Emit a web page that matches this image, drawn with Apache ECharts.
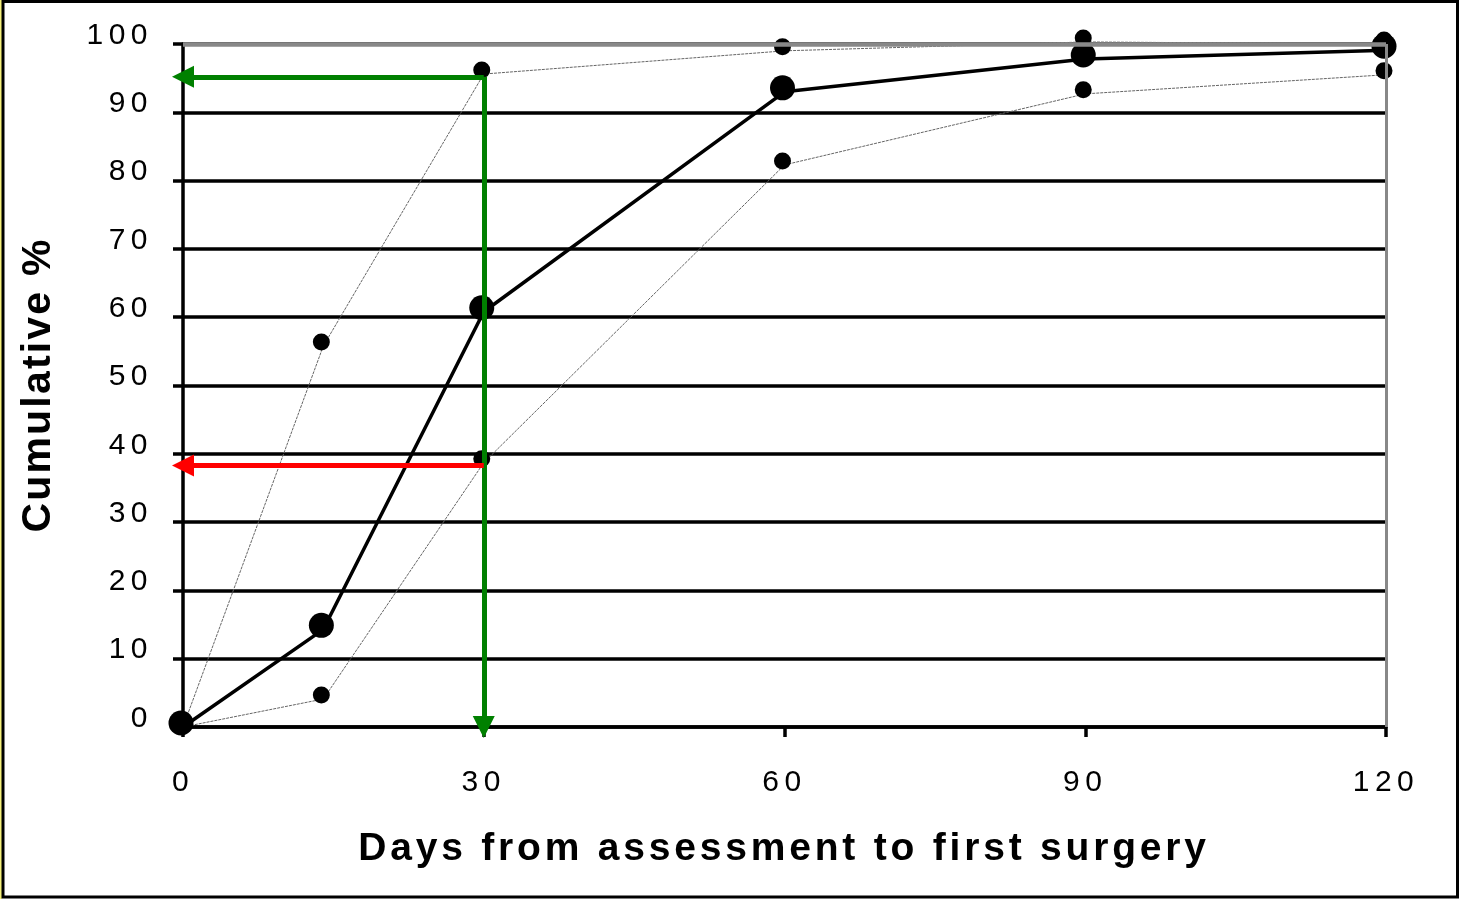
<!DOCTYPE html>
<html><head><meta charset="utf-8">
<script src="https://cdn.jsdelivr.net/npm/echarts@6/dist/echarts.min.js"></script>
<style>html,body{margin:0;padding:0;background:#fff}#c{width:1460px;height:899px}</style>
</head><body><div id="c"></div>
<script>
// ---- data ----
const days = [0, 14, 30, 60, 90, 120];
const cumulative = [0, 14.3, 60.8, 93.0, 97.8, 99.1];
const upperBound = [0, 55.8, 95.6, 99.0, 100.3, 100];
const lowerBound = [0, 4.1, 38.7, 82.3, 92.7, 95.5];
const xTickStep = 30;
const yTickStep = 10;
const targetDay = 30;
const upperAtTarget = 95.2;
const lowerAtTarget = 38.3;
const xTitle = 'Days from assessment to first surgery';
const yTitle = 'Cumulative %';

// ---- letter spacing (canvas) keyed on font size ----
const SPACING = { '30': '5.5px', '39': '3.8px', '41': '2.2px' };
(function () {
  const P = CanvasRenderingContext2D.prototype;
  const d = Object.getOwnPropertyDescriptor(P, 'font');
  if (!d || !('letterSpacing' in P)) return;
  Object.defineProperty(P, 'font', {
    configurable: true,
    get() { return d.get.call(this); },
    set(v) {
      d.set.call(this, v);
      const m = /(\d+(?:\.\d+)?)px/.exec(v);
      this.letterSpacing = (m && SPACING[m[1]]) || '0px';
    }
  });
})();

const FONT = '"Liberation Sans", Arial, sans-serif';
const pairs = arr => days.map((d, i) => [d, arr[i]]);

const chart = echarts.init(document.getElementById('c'), null, { renderer: 'canvas' });
chart.setOption({
  animation: false,
  backgroundColor: '#fff',
  grid: { left: 183, right: 74, top: 44, bottom: 172, containLabel: false },
  xAxis: {
    type: 'value', min: 0, max: 120, interval: xTickStep,
    axisLine: { show: true, onZero: false, lineStyle: { color: '#000', width: 3.5 } },
    axisTick: { show: true, length: 10, lineStyle: { color: '#000', width: 3.5 } },
    splitLine: { show: false },
    axisLabel: { margin: 38, fontSize: 30, color: '#000', fontFamily: FONT }
  },
  yAxis: {
    type: 'value', min: 0, max: 100, interval: yTickStep,
    axisLine: { show: true, lineStyle: { color: '#000', width: 3.5 } },
    axisTick: { show: true, length: 10, lineStyle: { color: '#000', width: 3.5 } },
    splitLine: { show: true, lineStyle: { color: '#000', width: 3.5 } },
    axisLabel: { margin: 30, fontSize: 30, color: '#000', fontFamily: FONT, verticalAlign: 'bottom', lineHeight: 17 }
  },
  series: [
    {
      name: 'lower', type: 'line', data: pairs(lowerBound), z: 3, clip: false, silent: true,
      symbol: 'circle', symbolSize: 17, symbolOffset: [-2, -4],
      itemStyle: { color: '#000' },
      lineStyle: { color: '#666', width: 1, type: [3, 1] },
      markLine: {
        silent: true, symbol: ['none', 'none'], label: { show: false },
        data: [
          { yAxis: 100, lineStyle: { color: '#888', width: 4.5, type: 'solid' } },
          { xAxis: 120, lineStyle: { color: '#888', width: 3, type: 'solid' } }
        ]
      }
    },
    {
      name: 'upper', type: 'line', data: pairs(upperBound), z: 3, clip: false, silent: true,
      symbol: 'circle', symbolSize: 17, symbolOffset: [-2, -4],
      itemStyle: { color: '#000' },
      lineStyle: { color: '#666', width: 1, type: [3, 1] }
    },
    {
      name: 'cumulative', type: 'line', data: pairs(cumulative), z: 4, clip: false, silent: true,
      symbol: 'circle', symbolSize: 25, symbolOffset: [-2, -4],
      itemStyle: { color: '#000' },
      lineStyle: { color: '#000', width: 3.5 }
    },
    {
      name: 'arrows', type: 'line', data: [], z: 6, silent: true,
      markLine: {
        silent: true, symbol: ['none', 'triangle'], symbolSize: 22, label: { show: false },
        data: [
          [{ coord: [targetDay, upperAtTarget], lineStyle: { color: '#008000', width: 5, type: 'solid' }, itemStyle: { color: '#008000' } },
           { coord: [targetDay, 0] }],
          [{ coord: [targetDay, upperAtTarget], lineStyle: { color: '#008000', width: 5, type: 'solid' }, itemStyle: { color: '#008000' } },
           { coord: [0, upperAtTarget] }],
          [{ coord: [targetDay, lowerAtTarget], lineStyle: { color: '#ff0000', width: 5, type: 'solid' }, itemStyle: { color: '#ff0000' } },
           { coord: [0, lowerAtTarget] }]
        ]
      }
    }
  ],
  graphic: [
    { type: 'rect', silent: true, z: 100, shape: { x: 0, y: 0, width: 2, height: 899 }, style: { fill: '#f5f07a' } },
    { type: 'rect', silent: true, z: 100, shape: { x: 3, y: 1.5, width: 1454.5, height: 895.5 }, style: { fill: 'none', stroke: '#000', lineWidth: 3 } },
    { type: 'text', silent: true, x: 784, y: 849, style: { text: xTitle, font: 'bold 39px ' + FONT, fill: '#000', align: 'center', verticalAlign: 'middle' } },
    { type: 'text', silent: true, x: 39, y: 385, rotation: Math.PI / 2, style: { text: yTitle, font: 'bold 41px ' + FONT, fill: '#000', align: 'center', verticalAlign: 'middle' } }
  ]
});
</script></body></html>
